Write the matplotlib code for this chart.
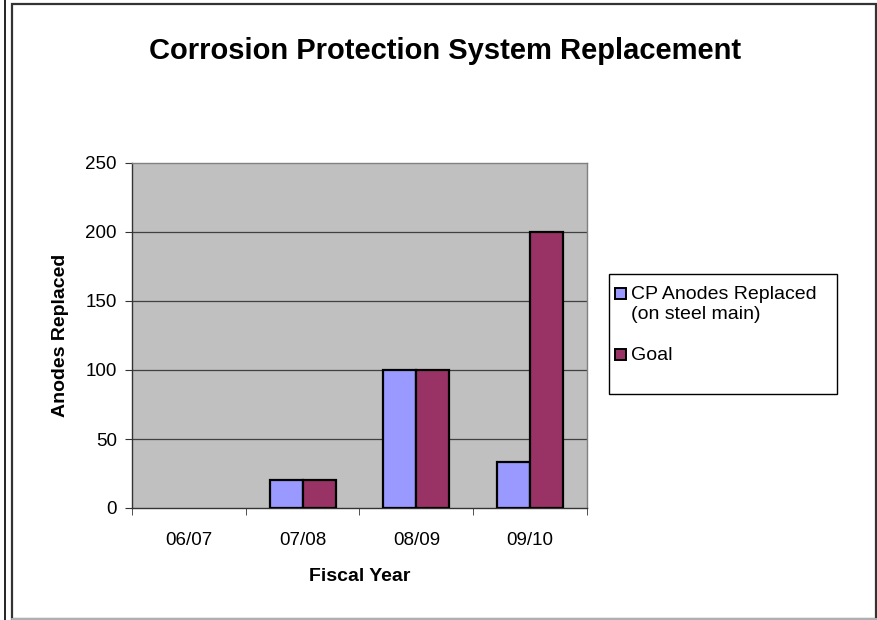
import matplotlib
matplotlib.use("Agg")
import matplotlib.pyplot as plt
from matplotlib.patches import Rectangle
from matplotlib.lines import Line2D
import numpy as np

plt.rcParams['font.family'] = ['Liberation Sans', 'DejaVu Sans']

years = ["06/07", "07/08", "08/09", "09/10"]
anodes_replaced = [0, 20, 100, 33]
goal = [0, 20, 100, 200]
series_names = ["CP Anodes Replaced\n(on steel main)", "Goal"]
title = "Corrosion Protection System Replacement"

W, H = 878, 620
fig = plt.figure(figsize=(W / 100, H / 100), dpi=100)

# outer frame lines
fig.add_artist(Line2D([5.5 / W, 5.5 / W], [0, 1], color="black", lw=1.2, transform=fig.transFigure))
fig.add_artist(Rectangle((12.5 / W, 1.0 / H), (876.5 - 12.5) / W, (616 - 1) / H,
                         fill=False, edgecolor="#333333", lw=1.6, transform=fig.transFigure))
fig.add_artist(Line2D([12.5 / W, 1], [0.8 / H, 0.8 / H], color="#c8c8c8", lw=1.2, transform=fig.transFigure))

left, right, top, bottom = 132, 587, 163, 508
ax = fig.add_axes([left / W, 1 - bottom / H, (right - left) / W, (bottom - top) / H])
ax.set_facecolor("#c0c0c0")

x = np.arange(len(years))
bw = 0.29
a = np.array(anodes_replaced, dtype=float)
g = np.array(goal, dtype=float)
ax.bar(x - bw / 2, a, bw, color="#9999ff", edgecolor="black",
       linewidth=np.where(a > 0, 1.6, 0), zorder=3)
ax.bar(x + bw / 2, g, bw, color="#993366", edgecolor="black",
       linewidth=np.where(g > 0, 1.6, 0), zorder=3)

ax.set_xlim(-0.5, len(years) - 0.5)
ax.set_ylim(0, 250)
ax.set_yticks(np.arange(0, 251, 50))
for v in [50, 100, 150, 200]:
    ax.axhline(v, color="#404040", lw=0.9, zorder=1)

ax.set_xticks(x)
ax.set_xticklabels(years)
ax.set_xticks(np.arange(-0.5, len(years)), minor=True)
ax.tick_params(axis="x", which="major", length=0, pad=17, labelsize=13.5)
ax.tick_params(axis="x", which="minor", length=5, direction="out", color="#333333")
ax.tick_params(axis="y", length=5, direction="out", color="#333333", labelsize=13.5, pad=6)

for s in ["top", "right"]:
    ax.spines[s].set_color("#808080")
    ax.spines[s].set_linewidth(1.0)
ax.spines["left"].set_color("#333333")
ax.spines["bottom"].set_color("#333333")
ax.spines["left"].set_linewidth(1.0)
ax.spines["bottom"].set_linewidth(1.0)

ax.set_xlabel("Fiscal Year", fontsize=14, fontweight="bold", labelpad=14)
ax.set_ylabel("Anodes Replaced", fontsize=14, fontweight="bold", labelpad=12)

fig.text(445 / W, 1 - 51 / H, title, ha="center", va="center", fontsize=21, fontweight="bold")

# legend box
lx0, ly0, lx1, ly1 = 609, 274, 837, 394
fig.add_artist(Rectangle((lx0 / W, 1 - ly1 / H), (lx1 - lx0) / W, (ly1 - ly0) / H,
                         fill=True, facecolor="white", edgecolor="black", lw=1.0,
                         transform=fig.transFigure))
colors = ["#9999ff", "#993366"]
entries = [(293, series_names[0]), (354, series_names[1])]
for (ty, label), c in zip(entries, colors):
    fig.add_artist(Rectangle((615 / W, 1 - (ty + 5.5) / H), 11 / W, 11 / H,
                             facecolor=c, edgecolor="black", lw=1.4, transform=fig.transFigure))
    fig.text(631 / W, 1 - (ty - 7) / H, label, ha="left", va="top", fontsize=14,
             linespacing=1.25)

fig.savefig("out.png", dpi=100)
